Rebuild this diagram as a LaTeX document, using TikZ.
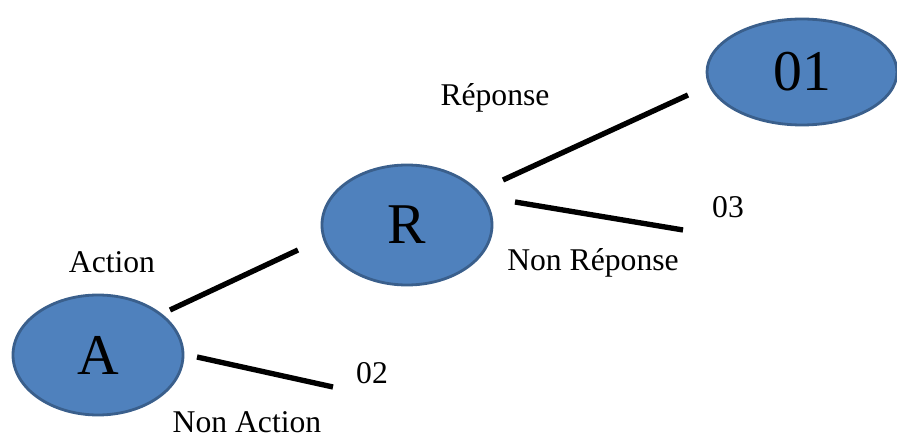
\documentclass[tikz,border=0pt]{standalone}
\usepackage{fontspec}
\setmainfont{Liberation Serif}
\usetikzlibrary{shapes.geometric}

\definecolor{etatfill}{HTML}{4F81BD}
\definecolor{etatdraw}{HTML}{3A5F8C}

\begin{document}
\begin{tikzpicture}[x=0.025cm,y=-0.025cm]
        \tikzstyle{etat}=[ellipse,draw=etatdraw,line width=2pt,fill=etatfill,
                minimum width=170*0.025cm,minimum height=120*0.025cm,inner sep=0pt,
                font=\fontsize{41}{45}\selectfont]
        \tikzstyle{branche}=[line width=3.8pt,black]
        \tikzstyle{etiquette}=[inner sep=0pt,font=\fontsize{22.5}{25}\selectfont]
        \useasboundingbox (0,0) rectangle (897,438);
        % etats
        \node[etat] (A) at (98,355) {A};
        \node[etat] (R) at (407,225) {R};
        \node[etat,minimum width=190*0.025cm,minimum height=106*0.025cm] (S01) at (802,72) {01};
        % etiquettes
        \node[etiquette] (action) at (112,262) {Action};
        \node[etiquette] (nonaction) at (247,422) {Non Action};
        \node[etiquette] (s02) at (372,373) {02};
        \node[etiquette] (reponse) at (495,98) {Réponse};
        \node[etiquette] (nonreponse) at (593,263) {Non Réponse};
        \node[etiquette] (s03) at (728,207) {03};
        % extremites des branches
        \coordinate (a1) at (170,310); \coordinate (r1) at (298,250);
        \coordinate (a2) at (197,357); \coordinate (f02) at (333,387);
        \coordinate (r2) at (503,180); \coordinate (f01) at (688,95);
        \coordinate (r3) at (515,202); \coordinate (f03) at (683,230);
        \draw[branche] (a1) -- (r1);
        \draw[branche] (a2) -- (f02);
        \draw[branche] (r2) -- (f01);
        \draw[branche] (r3) -- (f03);
\end{tikzpicture}
\end{document}
